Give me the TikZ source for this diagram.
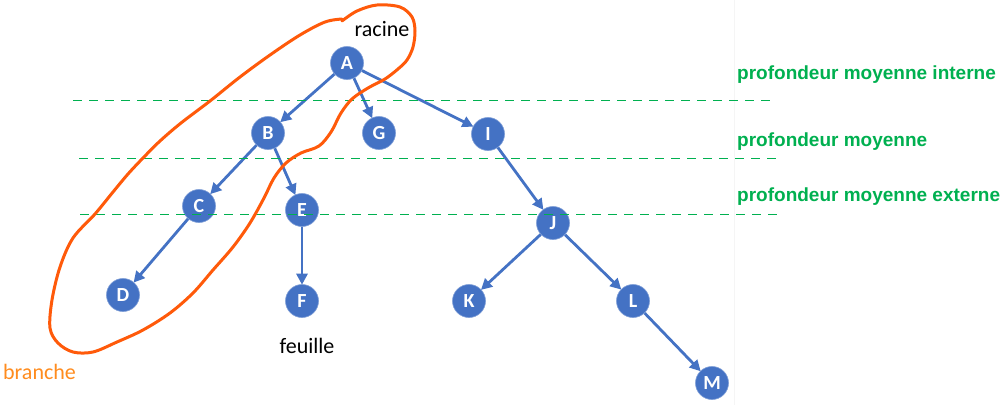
\documentclass[tikz,border=0pt]{standalone}
\usepackage{fontspec}
\setmainfont{Carlito}
\newfontfamily\arialf{Liberation Sans}
\usetikzlibrary{arrows.meta}
\definecolor{nodeblue}{HTML}{4472C4}
\definecolor{levelgreen}{HTML}{00B050}
\definecolor{loopor}{HTML}{FF5A0A}
\definecolor{textor}{HTML}{FF8C1E}
\tikzset{
  tnode/.style={circle,fill=nodeblue,draw=nodeblue!70!white,line width=0.6pt,minimum size=33pt,inner sep=0pt,text=white,font=\bfseries\fontsize{20}{20}\selectfont},
  tedge/.style={draw=nodeblue,line width=2.8pt,-{Triangle[length=11pt,width=11pt]},shorten >=-0.5pt},
  level/.style={draw=levelgreen,line width=1.2pt,dash pattern=on 9pt off 7pt},
  levellabel/.style={anchor=west,inner sep=0pt,text=levelgreen,font=\arialf\bfseries\fontsize{19}{19}\selectfont},
  plain/.style={inner sep=0pt,font=\fontsize{22}{22}\selectfont},
  loop/.style={draw=loopor,line width=3pt,line join=round,line cap=round}
}
\begin{document}
\begin{tikzpicture}[x=1pt,y=-1pt]
\useasboundingbox (0,0) rectangle (1005,405);
\fill[white] (0,0) rectangle (1005,405);
\draw[black!4,line width=0.5pt] (734,0) -- (734,405);
% nodes
\node[tnode] (A) at (347,63) {A};
\node[tnode] (B) at (268,133) {B};
\node[tnode] (G) at (379,133) {G};
\node[tnode] (I) at (488,134) {I};
\node[tnode] (C) at (199,206) {C};
\node[tnode] (E) at (302,210) {E};
\node[tnode] (D) at (123,295) {D};
\node[tnode] (F) at (302,301) {F};
\node[tnode] (J) at (553,223) {J};
\node[tnode] (K) at (469,301) {K};
\node[tnode] (L) at (633,301) {L};
\node[tnode] (M) at (712,383) {M};
% edges
\draw[tedge] (A) -- (B);
\draw[tedge] (A) -- (G);
\draw[tedge] (A) -- (I);
\draw[tedge] (B) -- (C);
\draw[tedge] (B) -- (E);
\draw[tedge] (C) -- (D);
\draw[tedge] (E) -- (F);
\draw[tedge] (I) -- (J);
\draw[tedge] (J) -- (K);
\draw[tedge] (J) -- (L);
\draw[tedge] (L) -- (M);
% level lines
\coordinate (l1a) at (73,100.5);  \coordinate (l1b) at (777,100.5);
\coordinate (l2a) at (79,158.5);  \coordinate (l2b) at (783,158.5);
\coordinate (l3a) at (80,214.5);  \coordinate (l3b) at (784,214.5);
\draw[level] (l1a) -- (l1b);
\draw[level] (l2a) -- (l2b);
\draw[level] (l3a) -- (l3b);
\node[levellabel] (lab1) at (737,75) {profondeur moyenne interne};
\node[levellabel] (lab2) at (737,142) {profondeur moyenne};
\node[levellabel] (lab3) at (737,197) {profondeur moyenne externe};
% texts
\node[plain] (racine) at (382,29) {racine};
\node[plain] (feuille) at (307,346) {feuille};
\node[plain,anchor=west,text=textor] (branche) at (3,372) {branche};
% branch loop
\draw[loop] plot[smooth,tension=0.55] coordinates {
 (342,21) (357,11) (377,5) (400,7) (412,17) (415,31) (413,47) (407,60)
 (398,69) (385,79) (368,88) (352,99) (341,113) (331,132) (319,146) (301,153)
 (286,163) (274,178) (264,198) (250,223) (233,247) (213,270) (193,293)
 (170,313) (143,330) (117,342) (93,352) (73,352) (58,343) (50,328)
 (52,300) (60,267) (73,238) (95,214) (113,192) (128,174) (143,158)
 (160,141) (181,123) (210,101) (240,77) (270,55) (300,35) (325,22) (342,19)
};
\end{tikzpicture}
\end{document}
